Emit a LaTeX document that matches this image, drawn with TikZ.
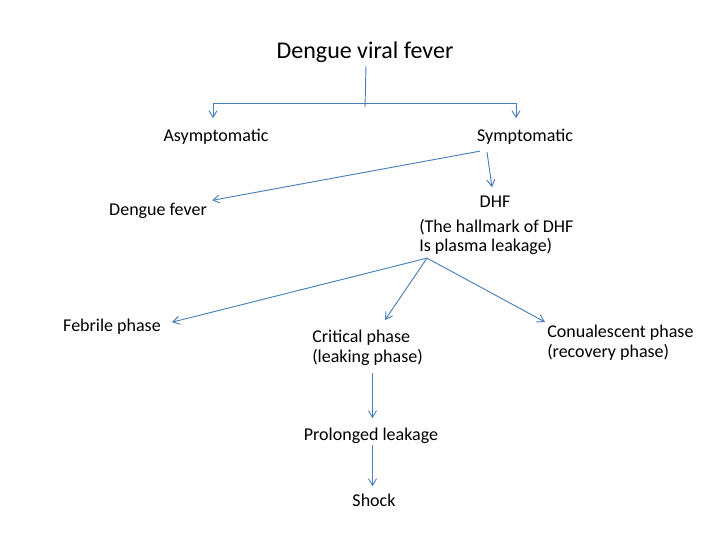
\documentclass[tikz,border=0pt]{standalone}
\usepackage{fontspec}
\setmainfont{Carlito}
\usetikzlibrary{arrows.meta,calc}

\definecolor{linkblue}{RGB}{74,126,187}

\begin{document}
\begin{tikzpicture}[x=0.75pt, y=-0.75pt,
    font=\fontsize{13.5}{14.5}\selectfont,
    txt/.style={inner sep=0pt, anchor=base},
    txtl/.style={inner sep=0pt, anchor=north west, align=left},
    line/.style={draw=linkblue, line width=0.7pt},
    arr/.style={line, -{Straight Barb[length=5pt, width=6pt, line width=0.7pt]}},
    arrs/.style={line, {Straight Barb[length=5pt, width=6pt, line width=0.7pt]}-{Straight Barb[length=5pt, width=6pt, line width=0.7pt]}}
  ]
    \useasboundingbox (0,0) rectangle (728,546);

    % top of the tree
    \node[txt, font=\fontsize{18}{20}\selectfont] (title) at (365,58) {Dengue viral fever};
    \node[txt] (asym) at (216,141) {Asymptomatic};
    \node[txt] (sym) at (525,141) {Symptomatic};

    \coordinate (fork) at (365,103.5);
    \draw[line] ($(title.south)+(1,4)$) -- ($(fork)+(0,3.5)$);
    \draw[arrs] ($(asym.north)+(-3,-10)$) |- (fork) -| ($(sym.north)+(-9,-10)$);

    % symptomatic branch
    \node[txt] (dfever) at (158,215) {Dengue fever};
    \node[txt] (dhf) at (495,207) {DHF};
    \node[txtl] (hallmark) at (419,219) {(The hallmark of DHF\\Is plasma leakage)};

    \draw[arr] ($(sym.south west)+(3,7)$) -- ($(dfever.east)+(5,-10)$);
    \draw[arr] ($(sym.south)+(-38,8)$) -- ($(dhf.north)+(-3,-8)$);

    % phases of DHF
    \node[txt] (febrile) at (112,331) {Febrile phase};
    \node[txtl] (crit) at (312,330) {Critical phase\\(leaking phase)};
    \node[txtl] (conv) at (547,325) {Conualescent phase\\(recovery phase)};

    \draw[arr] ($(hallmark.south west)+(8,3)$) -- ($(febrile.east)+(11,-4)$);
    \draw[arr] ($(hallmark.south west)+(8,3)$) -- ($(crit.north west)+(73,-10)$);
    \draw[arr] ($(hallmark.south west)+(8,3)$) -- ($(conv.north west)+(-2,-3)$);

    % leakage and shock
    \node[txt] (prol) at (371,440) {Prolonged leakage};
    \node[txt] (shock) at (374,506) {Shock};

    \draw[arr] ($(crit.south -| prol.north)+(1.5,8)$) -- ($(prol.north)+(1.5,-9)$);
    \draw[arr] ($(prol.south)+(1.5,2)$) -- ($(shock.north)+(-1.5,-7)$);
\end{tikzpicture}
\end{document}
